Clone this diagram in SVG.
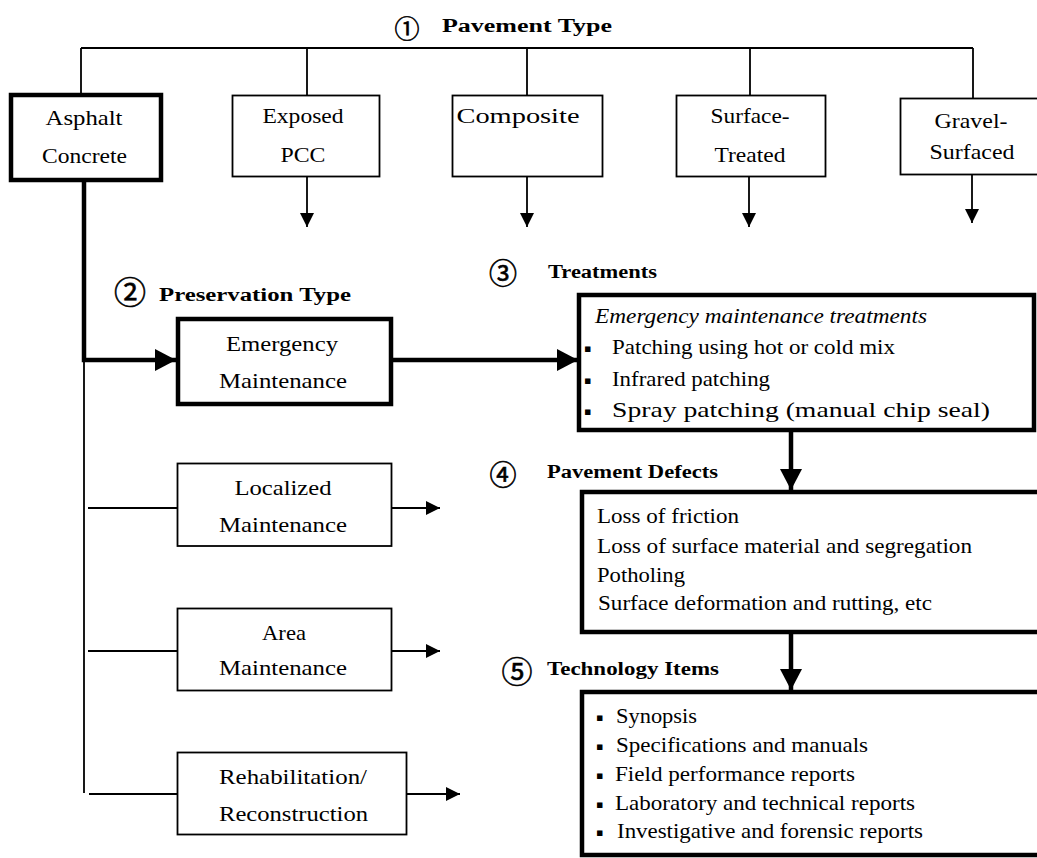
<svg xmlns="http://www.w3.org/2000/svg" width="1037" height="858" viewBox="0 0 1037 858">
<defs>
<style>
.bg{fill:#fff}
.thin{fill:#fff;stroke:#000;stroke-width:1.8}
.thick{fill:#fff;stroke:#000;stroke-width:4.5}
.ln{fill:none;stroke:#000;stroke-width:1.8}
.lk{fill:none;stroke:#000;stroke-width:4.5}
.lb{font-family:"Liberation Serif","Times New Roman",serif;font-size:21px;fill:#000;text-anchor:middle}
.tx{font-family:"Liberation Serif","Times New Roman",serif;font-size:21px;fill:#000}
.it{font-style:italic}
.hd{font-family:"Liberation Serif","Times New Roman",serif;font-size:18px;font-weight:bold;fill:#000}
.cn{font-family:"Noto Sans CJK JP","DejaVu Sans",sans-serif;fill:#000;stroke:#000;stroke-width:0.6;text-anchor:middle;dominant-baseline:central}
.bu{font-family:"DejaVu Sans",sans-serif;font-size:11px;fill:#000}
</style>
<marker id="as" markerUnits="userSpaceOnUse" markerWidth="15" markerHeight="15" refX="14" refY="7" orient="auto"><path d="M0,0 L14,7 L0,14 z" fill="#000"/></marker>
<marker id="al" markerUnits="userSpaceOnUse" markerWidth="22" markerHeight="23" refX="21" refY="11" orient="auto"><path d="M0,0 L21,11 L0,22 z" fill="#000"/></marker>
</defs>
<rect class="bg" x="0" y="0" width="1037" height="858"/>

<g id="connectors">
<path class="ln" d="M81,48 H973 M81,48 V93 M307,48 V95 M527,48 V95 M750,48 V95 M973,48 V98"/>
<path class="ln" d="M307,177 V227" marker-end="url(#as)"/>
<path class="ln" d="M527,177 V227" marker-end="url(#as)"/>
<path class="ln" d="M749,177 V227" marker-end="url(#as)"/>
<path class="ln" d="M972,175 V223" marker-end="url(#as)"/>
<path class="lk" d="M84,182 V360 H176" marker-end="url(#al)"/>
<path class="lk" d="M393,360 H578" marker-end="url(#al)"/>
<path class="lk" d="M791,432 V490" marker-end="url(#al)"/>
<path class="lk" d="M791,634 V690" marker-end="url(#al)"/>
<path class="ln" d="M84,360 V793 M88,508 H177 M88,651 H177 M89,794 H177"/>
<path class="ln" d="M388,508 H440" marker-end="url(#as)"/>
<path class="ln" d="M388,651 H440" marker-end="url(#as)"/>
<path class="ln" d="M405,794 H460" marker-end="url(#as)"/>
</g>

<g id="title-pavement">
<text class="cn" x="407" y="27" font-size="25">①</text>
<text class="hd" x="442" y="32" textLength="170" lengthAdjust="spacingAndGlyphs">Pavement Type</text>
</g>

<g id="asphalt">
<rect class="thick" x="11" y="95" width="150" height="85"/>
<text class="lb" x="84" y="125" textLength="77" lengthAdjust="spacingAndGlyphs">Asphalt</text>
<text class="lb" x="84.5" y="163" textLength="85" lengthAdjust="spacingAndGlyphs">Concrete</text>
</g>
<g id="exposed-pcc">
<rect class="thin" x="232.5" y="95.5" width="147" height="81"/>
<text class="lb" x="303" y="123" textLength="81" lengthAdjust="spacingAndGlyphs">Exposed</text>
<text class="lb" x="303" y="162" textLength="45" lengthAdjust="spacingAndGlyphs">PCC</text>
</g>
<g id="composite">
<rect class="thin" x="452.5" y="95.5" width="150" height="81"/>
<text class="lb" x="518" y="123" textLength="123" lengthAdjust="spacingAndGlyphs">Composite</text>
</g>
<g id="surface-treated">
<rect class="thin" x="676.5" y="95.5" width="149" height="81"/>
<text class="lb" x="750" y="123" textLength="79" lengthAdjust="spacingAndGlyphs">Surface-</text>
<text class="lb" x="750" y="162" textLength="71" lengthAdjust="spacingAndGlyphs">Treated</text>
</g>
<g id="gravel-surfaced">
<rect class="thin" x="900.5" y="98.5" width="145" height="76"/>
<text class="lb" x="971" y="128" textLength="73" lengthAdjust="spacingAndGlyphs">Gravel-</text>
<text class="lb" x="972" y="159" textLength="85" lengthAdjust="spacingAndGlyphs">Surfaced</text>
</g>

<g id="title-preservation">
<text class="cn" x="130" y="290" font-size="32">②</text>
<text class="hd" x="159" y="301" textLength="192" lengthAdjust="spacingAndGlyphs">Preservation Type</text>
</g>

<g id="emergency">
<rect class="thick" x="178" y="319" width="213" height="85"/>
<text class="lb" x="282" y="351" textLength="112" lengthAdjust="spacingAndGlyphs">Emergency</text>
<text class="lb" x="283" y="388" textLength="128" lengthAdjust="spacingAndGlyphs">Maintenance</text>
</g>
<g id="localized">
<rect class="thin" x="177.5" y="463.5" width="214" height="82.5"/>
<text class="lb" x="283" y="495" textLength="97" lengthAdjust="spacingAndGlyphs">Localized</text>
<text class="lb" x="283" y="532" textLength="128" lengthAdjust="spacingAndGlyphs">Maintenance</text>
</g>
<g id="area">
<rect class="thin" x="177.5" y="608.5" width="214" height="82"/>
<text class="lb" x="284" y="640" textLength="44" lengthAdjust="spacingAndGlyphs">Area</text>
<text class="lb" x="283" y="675" textLength="128" lengthAdjust="spacingAndGlyphs">Maintenance</text>
</g>
<g id="rehabilitation">
<rect class="thin" x="177.5" y="752.5" width="229" height="82"/>
<text class="lb" x="293" y="784" textLength="148" lengthAdjust="spacingAndGlyphs">Rehabilitation/</text>
<text class="lb" x="293.5" y="821" textLength="149" lengthAdjust="spacingAndGlyphs">Reconstruction</text>
</g>

<g id="title-treatments">
<text class="cn" x="503" y="272" font-size="28">③</text>
<text class="hd" x="548" y="278" textLength="109" lengthAdjust="spacingAndGlyphs">Treatments</text>
</g>
<g id="treatments">
<rect class="thick" x="579" y="295" width="455" height="135"/>
<text class="tx it" x="595" y="323" textLength="332" lengthAdjust="spacingAndGlyphs">Emergency maintenance treatments</text>
<text class="bu" x="584" y="352">▪</text>
<text class="tx" x="612" y="354" textLength="283" lengthAdjust="spacingAndGlyphs">Patching using hot or cold mix</text>
<text class="bu" x="584" y="384">▪</text>
<text class="tx" x="612" y="386" textLength="158" lengthAdjust="spacingAndGlyphs">Infrared patching</text>
<text class="bu" x="584" y="415">▪</text>
<text class="tx" x="612" y="417" textLength="378" lengthAdjust="spacingAndGlyphs">Spray patching (manual chip seal)</text>
</g>

<g id="title-defects">
<text class="cn" x="503" y="473" font-size="27">④</text>
<text class="hd" x="547" y="478" textLength="171" lengthAdjust="spacingAndGlyphs">Pavement Defects</text>
</g>
<g id="defects">
<rect class="thick" x="582" y="492" width="458" height="140"/>
<text class="tx" x="597" y="523" textLength="142" lengthAdjust="spacingAndGlyphs">Loss of friction</text>
<text class="tx" x="597" y="553" textLength="375" lengthAdjust="spacingAndGlyphs">Loss of surface material and segregation</text>
<text class="tx" x="597" y="582" textLength="88" lengthAdjust="spacingAndGlyphs">Potholing</text>
<text class="tx" x="598" y="610" textLength="334" lengthAdjust="spacingAndGlyphs">Surface deformation and rutting, etc</text>
</g>

<g id="title-technology">
<text class="cn" x="517" y="669" font-size="31">⑤</text>
<text class="hd" x="547" y="675" textLength="172" lengthAdjust="spacingAndGlyphs">Technology Items</text>
</g>
<g id="technology">
<rect class="thick" x="582" y="692" width="470" height="163"/>
<text class="bu" x="596" y="721">▪</text>
<text class="tx" x="616" y="723" textLength="81" lengthAdjust="spacingAndGlyphs">Synopsis</text>
<text class="bu" x="596" y="750">▪</text>
<text class="tx" x="616" y="752" textLength="252" lengthAdjust="spacingAndGlyphs">Specifications and manuals</text>
<text class="bu" x="596" y="779">▪</text>
<text class="tx" x="615" y="781" textLength="240" lengthAdjust="spacingAndGlyphs">Field performance reports</text>
<text class="bu" x="596" y="808">▪</text>
<text class="tx" x="615" y="810" textLength="300" lengthAdjust="spacingAndGlyphs">Laboratory and technical reports</text>
<text class="bu" x="596" y="836">▪</text>
<text class="tx" x="617" y="838" textLength="306" lengthAdjust="spacingAndGlyphs">Investigative and forensic reports</text>
</g>
</svg>
